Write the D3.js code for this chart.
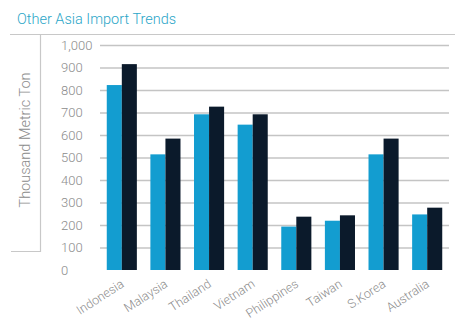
<!DOCTYPE html>
<html>
<head>
<meta charset="utf-8">
<script src="https://cdn.jsdelivr.net/npm/d3@7"></script>
<style>
  body { margin: 0; background: #fff; }
  text { font-family: Roboto, "Open Sans", sans-serif; }
</style>
</head>
<body>
<svg id="chart" width="461" height="322"></svg>
<script>
const countries = ["Indonesia", "Malaysia", "Thailand", "Vietnam", "Philippines", "Taiwan", "S.Korea", "Australia"];
const seriesA = [822, 514, 692, 646, 193, 219, 514, 247];
const seriesB = [915, 584, 726, 692, 237, 243, 584, 277];
const yTicks = [0, 100, 200, 300, 400, 500, 600, 700, 800, 900, 1000];

const colorA = "#139dd0";
const colorB = "#0b1a2b";
const gridColor = "#c4c4c4";
const textColor = "#8c8c8c";

const svg = d3.select("#chart");
const plotLeft = 100, plotRight = 449, plotTop = 45, plotBottom = 270;

const x = d3.scaleBand()
  .domain(countries)
  .range([plotLeft, plotRight])
  .paddingInner(0.31)
  .paddingOuter(0.155);

const xInner = d3.scaleBand()
  .domain(["a", "b"])
  .range([0, x.bandwidth()]);

const y = d3.scaleLinear()
  .domain([0, 1000])
  .range([plotBottom, plotTop]);

// title
svg.append("text")
  .attr("x", 17)
  .attr("y", 24)
  .attr("fill", "#2ba6c8")
  .attr("font-size", 14.5)
  .attr("font-weight", 300)
  .text("Other Asia Import Trends");

// rule under title and y-title box
svg.append("line")
  .attr("x1", 10).attr("x2", 455)
  .attr("y1", 34.5).attr("y2", 34.5)
  .attr("stroke", "#c8c8c8");

svg.append("path")
  .attr("d", "M40.5,34.5 V251.5 H11")
  .attr("fill", "none")
  .attr("stroke", "#c8c8c8")
  .attr("stroke-width", 1.2);

svg.append("text")
  .attr("transform", "translate(30,140) rotate(-90)")
  .attr("text-anchor", "middle")
  .attr("fill", textColor)
  .attr("font-size", 14.5)
  .attr("font-weight", 300)
  .text("Thousand Metric Ton");

// gridlines
const yAxis = d3.axisLeft(y)
  .tickValues(yTicks)
  .tickSize(-(plotRight - plotLeft))
  .tickFormat(d3.format(","));

const gy = svg.append("g")
  .attr("transform", `translate(${plotLeft},0)`)
  .call(yAxis);
gy.select(".domain").remove();
gy.selectAll(".tick line")
  .attr("stroke", gridColor)
  .attr("stroke-width", 1.5)
  .filter(d => d === 0).remove();
gy.selectAll(".tick text")
  .attr("x", -39)
  .attr("text-anchor", "start")
  .attr("fill", textColor)
  .attr("font-size", 13)
  .attr("font-weight", 300)
  .attr("font-family", "Roboto, sans-serif");

// bars
const groups = svg.append("g").selectAll("g")
  .data(countries)
  .join("g")
  .attr("transform", d => `translate(${x(d)},0)`);

groups.append("rect")
  .attr("x", xInner("a"))
  .attr("width", xInner.bandwidth())
  .attr("y", (d, i) => y(seriesA[i]))
  .attr("height", (d, i) => y(0) - y(seriesA[i]))
  .attr("fill", colorA);

groups.append("rect")
  .attr("x", xInner("b"))
  .attr("width", xInner.bandwidth())
  .attr("y", (d, i) => y(seriesB[i]))
  .attr("height", (d, i) => y(0) - y(seriesB[i]))
  .attr("fill", colorB);

// x labels
const xAxis = d3.axisBottom(x).tickSize(0);
const gx = svg.append("g")
  .attr("transform", `translate(0,${plotBottom})`)
  .call(xAxis);
gx.select(".domain").remove();
gx.selectAll(".tick text")
  .attr("text-anchor", "end")
  .attr("fill", textColor)
  .attr("font-size", 12.5)
  .attr("font-weight", 300)
  .attr("font-family", "Roboto, sans-serif")
  .attr("dy", null)
  .attr("y", 0)
  .attr("transform", "translate(3,16) rotate(-33)");
</script>
</body>
</html>
